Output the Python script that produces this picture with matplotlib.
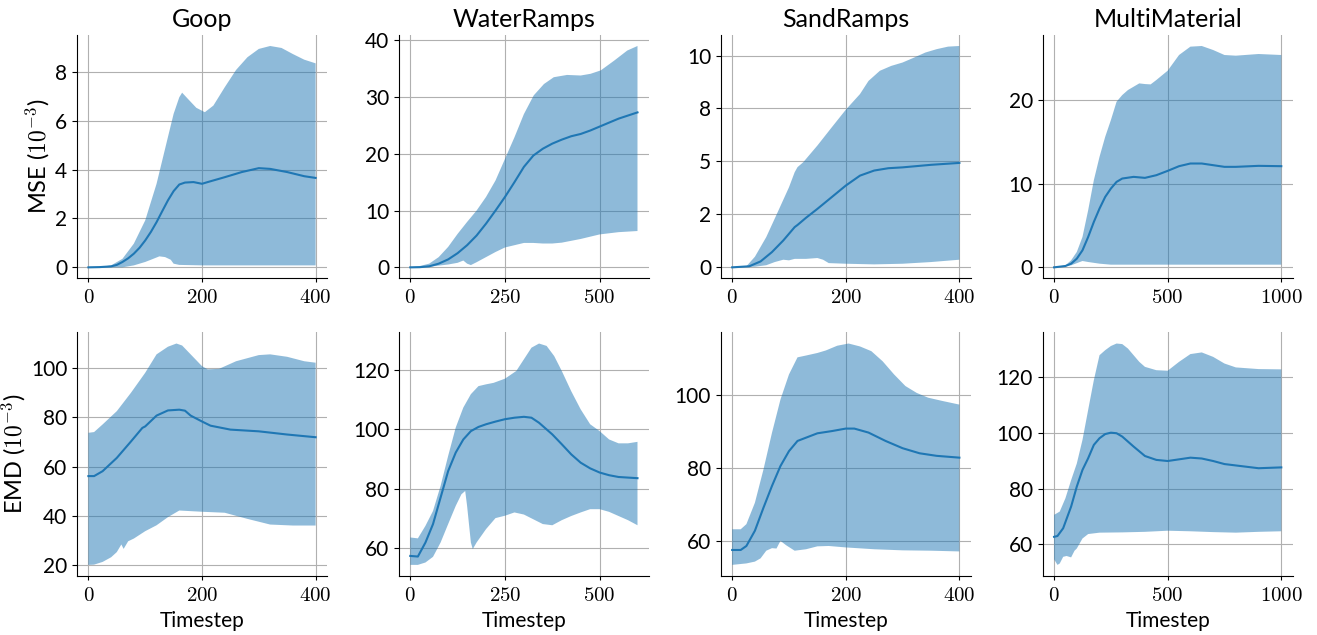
import numpy as np
import matplotlib
matplotlib.use('Agg')
import matplotlib.pyplot as plt
from matplotlib.ticker import FuncFormatter, FormatStrFormatter

plt.rcParams['font.family'] = ['Lato', 'DejaVu Sans']
plt.rcParams['mathtext.fontset'] = 'cm'

titles = ['Goop', 'WaterRamps', 'SandRamps', 'MultiMaterial']

# ---- Goop MSE ----
goop_mse_mean_t = [0, 20, 40, 50, 60, 70, 80, 90, 100, 110, 120, 130, 140, 150, 160, 170, 185, 200, 210, 240, 270, 300, 320, 350, 380, 400]
goop_mse_mean = [0, 0.01, 0.04, 0.1, 0.22, 0.37, 0.56, 0.8, 1.1, 1.45, 1.85, 2.3, 2.74, 3.12, 3.39, 3.47, 3.49, 3.42, 3.49, 3.69, 3.9, 4.06, 4.03, 3.9, 3.73, 3.66]
goop_mse_up_t = [0, 20, 40, 60, 80, 100, 120, 140, 150, 160, 165, 175, 190, 205, 220, 240, 260, 280, 300, 320, 340, 360, 380, 400]
goop_mse_up = [0, 0.01, 0.08, 0.35, 0.97, 1.92, 3.42, 5.33, 6.28, 6.96, 7.15, 6.9, 6.53, 6.35, 6.62, 7.37, 8.08, 8.6, 8.94, 9.06, 8.98, 8.73, 8.5, 8.35]
goop_mse_lo_t = [0, 60, 80, 100, 110, 125, 135, 145, 150, 160, 200, 300, 400]
goop_mse_lo = [0, 0.0, 0.08, 0.22, 0.31, 0.45, 0.42, 0.31, 0.15, 0.1, 0.08, 0.08, 0.08]

# ---- WaterRamps MSE ----
water_mse_mean_t = [0, 25, 50, 75, 100, 125, 150, 175, 200, 225, 250, 275, 300, 325, 350, 375, 400, 425, 450, 475, 500, 550, 600]
water_mse_mean = [0, 0.03, 0.18, 0.65, 1.4, 2.5, 3.9, 5.6, 7.7, 10.0, 12.4, 15.0, 17.7, 19.7, 20.9, 21.8, 22.5, 23.1, 23.5, 24.1, 24.8, 26.2, 27.3]
water_mse_up_t = [0, 25, 50, 75, 100, 125, 150, 175, 200, 225, 250, 275, 300, 326, 353, 379, 414, 450, 476, 503, 538, 573, 600]
water_mse_up = [0, 0.23, 0.65, 1.8, 3.6, 5.9, 8.0, 10.0, 12.4, 15.3, 19.1, 22.9, 27.0, 30.3, 32.3, 33.5, 33.9, 33.8, 34.1, 34.7, 36.4, 38.2, 39.0]
water_mse_lo_t = [0, 50, 100, 125, 140, 150, 160, 175, 200, 225, 250, 275, 300, 325, 350, 375, 400, 450, 500, 550, 600]
water_mse_lo = [0, 0.1, 0.5, 0.8, 1.2, 0.65, 0.4, 0.9, 1.8, 2.7, 3.5, 3.9, 4.3, 4.3, 4.2, 4.2, 4.35, 5.0, 5.8, 6.2, 6.4]

# ---- SandRamps MSE ----
sand_mse_mean_t = [0, 30, 50, 70, 90, 110, 115, 130, 150, 175, 200, 225, 250, 275, 300, 350, 400]
sand_mse_mean = [0, 0.05, 0.28, 0.72, 1.27, 1.9, 2.0, 2.34, 2.76, 3.31, 3.86, 4.33, 4.57, 4.68, 4.72, 4.84, 4.93]
sand_mse_up_t = [0, 25, 40, 60, 80, 100, 110, 115, 125, 150, 175, 200, 225, 240, 260, 280, 300, 320, 340, 360, 380, 400]
sand_mse_up = [0, 0.05, 0.5, 1.43, 2.6, 3.78, 4.49, 4.73, 4.96, 5.75, 6.6, 7.44, 8.18, 8.8, 9.28, 9.51, 9.67, 9.9, 10.14, 10.3, 10.42, 10.45]
sand_mse_lo_t = [0, 40, 60, 75, 90, 100, 110, 130, 150, 160, 170, 200, 250, 300, 350, 400]
sand_mse_lo = [0, 0.03, 0.1, 0.25, 0.36, 0.33, 0.4, 0.4, 0.44, 0.36, 0.2, 0.17, 0.14, 0.17, 0.25, 0.36]

# ---- MultiMaterial MSE ----
multi_mse_mean_t = [0, 50, 75, 100, 125, 150, 175, 200, 225, 250, 275, 300, 350, 400, 450, 500, 550, 600, 650, 700, 750, 800, 900, 1000]
multi_mse_mean = [0, 0.16, 0.44, 1.04, 2.04, 3.64, 5.44, 7.04, 8.44, 9.44, 10.24, 10.64, 10.84, 10.72, 11.04, 11.56, 12.12, 12.44, 12.44, 12.24, 12.04, 12.04, 12.16, 12.12]
multi_mse_up_t = [0, 50, 75, 100, 125, 150, 175, 200, 225, 250, 275, 300, 325, 350, 375, 400, 425, 450, 500, 550, 600, 650, 700, 750, 800, 900, 1000]
multi_mse_up = [0, 0.24, 0.84, 1.84, 3.64, 6.84, 10.44, 13.24, 15.64, 17.64, 19.84, 20.64, 21.24, 21.64, 22.04, 21.96, 21.92, 22.44, 23.56, 25.44, 26.44, 26.52, 26.04, 25.44, 25.36, 25.56, 25.44]
multi_mse_lo_t = [0, 75, 125, 150, 200, 250, 500, 1000]
multi_mse_lo = [0, 0.24, 0.76, 0.64, 0.44, 0.32, 0.32, 0.32]

# ---- Goop EMD ----
goop_emd_mean_t = [0, 10, 25, 50, 75, 95, 100, 120, 140, 160, 170, 180, 200, 215, 250, 300, 350, 400]
goop_emd_mean = [56.1, 56.1, 58.1, 63.5, 70.2, 75.7, 76.3, 80.7, 82.8, 83.1, 82.7, 80.7, 78.3, 76.6, 75.0, 74.3, 73.0, 71.9]
goop_emd_up_t = [0, 10, 25, 50, 75, 100, 120, 140, 155, 165, 180, 200, 210, 230, 260, 300, 320, 350, 380, 400]
goop_emd_up = [73.7, 74.0, 77.1, 82.5, 90.0, 98.1, 105.6, 108.7, 110.0, 109.2, 105.6, 100.8, 99.5, 99.7, 102.8, 105.3, 105.6, 104.6, 102.8, 102.2]
goop_emd_lo_t = [0, 10, 25, 40, 50, 58, 62, 70, 80, 100, 120, 140, 160, 200, 240, 280, 320, 360, 400]
goop_emd_lo = [20.0, 20.1, 21.2, 23.1, 25.2, 28.3, 26.5, 29.6, 30.7, 33.7, 36.1, 39.4, 42.1, 41.6, 41.2, 38.7, 36.4, 36.0, 36.0]

# ---- WaterRamps EMD ----
water_emd_mean_t = [0, 20, 40, 60, 80, 100, 120, 140, 160, 180, 200, 225, 250, 275, 300, 320, 340, 375, 400, 425, 450, 475, 500, 525, 550, 575, 600]
water_emd_mean = [57.5, 57.3, 62.0, 68.2, 77.1, 86.0, 92.2, 96.6, 99.4, 100.8, 101.7, 102.6, 103.4, 103.9, 104.2, 103.9, 102.2, 98.3, 95.0, 91.6, 88.8, 86.9, 85.5, 84.6, 84.0, 83.8, 83.6]
water_emd_up_t = [0, 20, 40, 60, 80, 100, 120, 140, 160, 180, 200, 220, 250, 280, 300, 320, 340, 360, 380, 400, 425, 450, 475, 500, 525, 550, 575, 600]
water_emd_up = [63.7, 63.4, 67.6, 72.6, 81.0, 91.1, 100.6, 107.3, 111.8, 114.5, 115.1, 115.6, 117.0, 119.6, 123.5, 127.4, 128.8, 128.0, 124.6, 119.6, 112.8, 106.7, 101.7, 99.4, 96.6, 95.3, 95.3, 95.8]
water_emd_lo_t = [0, 20, 40, 60, 80, 100, 120, 135, 145, 150, 160, 165, 175, 200, 225, 250, 275, 300, 325, 350, 375, 400, 425, 450, 475, 500, 525, 550, 575, 600]
water_emd_lo = [54.5, 54.5, 55.3, 57.2, 62.0, 68.2, 74.3, 78.2, 79.3, 74.3, 62.0, 59.8, 62.0, 66.5, 70.2, 71.0, 72.1, 71.4, 69.8, 68.2, 67.8, 69.5, 70.9, 72.1, 73.2, 73.2, 72.3, 70.9, 69.5, 67.8]

# ---- SandRamps EMD ----
sand_emd_mean_t = [0, 15, 25, 40, 55, 70, 85, 100, 115, 130, 150, 175, 200, 215, 240, 270, 300, 330, 360, 400]
sand_emd_mean = [57.4, 57.4, 58.5, 62.7, 69.0, 75.0, 80.5, 84.6, 87.4, 88.3, 89.5, 90.1, 90.8, 90.8, 89.7, 87.4, 85.4, 84.0, 83.3, 82.8]
sand_emd_up_t = [0, 15, 25, 40, 55, 70, 85, 100, 115, 130, 150, 165, 185, 205, 225, 245, 265, 285, 305, 325, 345, 370, 400]
sand_emd_up = [63.1, 63.1, 64.5, 70.4, 79.5, 89.6, 98.8, 105.7, 110.4, 110.9, 111.6, 112.3, 113.6, 114.2, 113.4, 112.1, 109.3, 105.7, 102.5, 100.6, 99.3, 98.4, 97.4]
sand_emd_lo_t = [0, 25, 40, 50, 60, 70, 78, 85, 95, 110, 130, 150, 170, 200, 250, 300, 350, 400]
sand_emd_lo = [53.3, 53.7, 54.2, 55.1, 57.2, 57.9, 57.8, 59.9, 58.7, 57.2, 57.6, 58.4, 58.5, 58.1, 57.6, 57.3, 57.2, 57.0]

# ---- MultiMaterial EMD ----
multi_emd_mean_t = [0, 15, 40, 75, 100, 125, 150, 175, 200, 225, 250, 275, 300, 350, 400, 450, 500, 550, 600, 650, 700, 750, 800, 900, 1000]
multi_emd_mean = [62.6, 62.9, 65.7, 73.5, 80.7, 86.7, 90.9, 95.7, 98.1, 99.6, 100.1, 99.9, 98.7, 95.1, 91.7, 90.3, 89.9, 90.5, 91.1, 90.8, 89.9, 88.8, 88.3, 87.3, 87.6]
multi_emd_up_t = [0, 25, 50, 75, 100, 125, 150, 175, 200, 225, 250, 275, 300, 325, 350, 375, 400, 450, 500, 550, 600, 650, 700, 750, 800, 900, 1000]
multi_emd_up = [70.5, 71.7, 76.5, 83.0, 89.0, 97.5, 108.3, 119.0, 128.0, 129.8, 131.3, 132.2, 132.0, 130.4, 128.0, 125.6, 123.8, 122.6, 122.4, 125.6, 128.4, 129.0, 127.4, 125.0, 123.6, 123.0, 122.9]
multi_emd_lo_t = [0, 15, 25, 40, 55, 75, 90, 100, 125, 150, 200, 300, 400, 500, 600, 700, 800, 900, 1000]
multi_emd_lo = [54.5, 52.5, 53.0, 55.4, 55.7, 55.2, 57.6, 58.4, 62.0, 63.6, 64.1, 64.2, 64.4, 64.8, 64.6, 64.3, 64.1, 64.4, 64.6]

panels = [
    [(goop_mse_mean_t, goop_mse_mean, goop_mse_up_t, goop_mse_up, goop_mse_lo_t, goop_mse_lo),
     (water_mse_mean_t, water_mse_mean, water_mse_up_t, water_mse_up, water_mse_lo_t, water_mse_lo),
     (sand_mse_mean_t, sand_mse_mean, sand_mse_up_t, sand_mse_up, sand_mse_lo_t, sand_mse_lo),
     (multi_mse_mean_t, multi_mse_mean, multi_mse_up_t, multi_mse_up, multi_mse_lo_t, multi_mse_lo)],
    [(goop_emd_mean_t, goop_emd_mean, goop_emd_up_t, goop_emd_up, goop_emd_lo_t, goop_emd_lo),
     (water_emd_mean_t, water_emd_mean, water_emd_up_t, water_emd_up, water_emd_lo_t, water_emd_lo),
     (sand_emd_mean_t, sand_emd_mean, sand_emd_up_t, sand_emd_up, sand_emd_lo_t, sand_emd_lo),
     (multi_emd_mean_t, multi_emd_mean, multi_emd_up_t, multi_emd_up, multi_emd_lo_t, multi_emd_lo)],
]

xticks = [[0, 200, 400], [0, 250, 500], [0, 200, 400], [0, 500, 1000]]
yticks = [
    [[0, 2, 4, 6, 8], [0, 10, 20, 30, 40], [0, 2.5, 5, 7.5, 10], [0, 10, 20]],
    [[20, 40, 60, 80, 100], [60, 80, 100, 120], [60, 80, 100], [60, 80, 100, 120]],
]
ylabels = [r'MSE ($10^{-3}$)', r'EMD ($10^{-3}$)']

fig, axes = plt.subplots(2, 4, figsize=(13.17, 6.35), dpi=100)
fig.subplots_adjust(left=0.0585, right=0.9815, bottom=0.093, top=0.945, wspace=0.288, hspace=0.222)

for r in range(2):
    for c in range(4):
        ax = axes[r, c]
        mt, m, ut, u, lt, lo = panels[r][c]
        px = np.concatenate([ut, lt[::-1]])
        py = np.concatenate([u, lo[::-1]])
        ax.fill(px, py, color='C0', alpha=0.5, lw=0)
        ax.plot(mt, m, color='C0', lw=1.5)
        ax.grid(True, color='#b0b0b0', lw=0.8)
        ax.set_axisbelow(True)
        ax.spines['top'].set_visible(False)
        ax.spines['right'].set_visible(False)
        ax.set_xticks(xticks[c])
        ax.xaxis.set_major_formatter(FuncFormatter(lambda v, p: r'$%d$' % v))
        ax.set_yticks(yticks[r][c])
        ax.yaxis.set_major_formatter(FormatStrFormatter('%.0f'))
        ax.tick_params(axis='x', labelsize=15, length=3)
        ax.tick_params(axis='y', labelsize=15, length=3.5)
        if r == 0:
            ax.set_title(titles[c], fontsize=18)
        else:
            ax.set_xlabel('Timestep', fontsize=15)
        if c == 0:
            ax.set_ylabel(ylabels[r], fontsize=17, labelpad=3)

fig.savefig('out.png', dpi=100)
